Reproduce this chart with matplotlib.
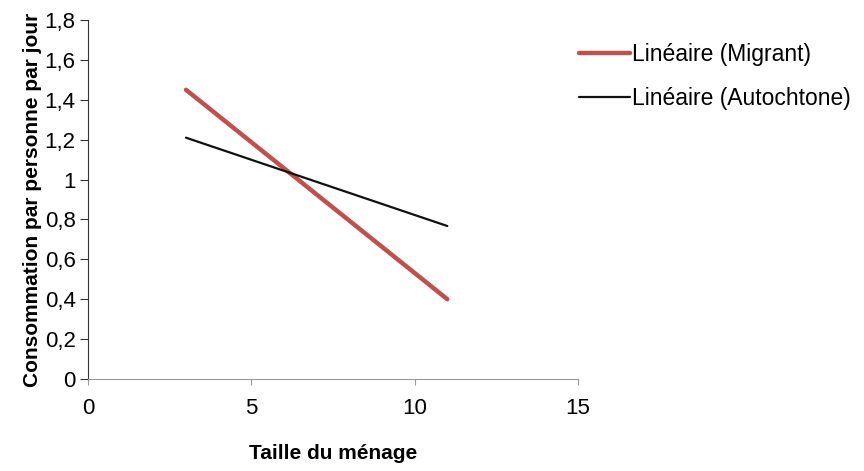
import matplotlib
matplotlib.use("Agg")
import matplotlib.pyplot as plt
from matplotlib.ticker import FuncFormatter

plt.rcParams['font.family'] = ['Liberation Sans', 'DejaVu Sans']

# Data (trend lines endpoints)
x_vals = [3, 11]
migrant = [1.45, 0.40]
autochtone = [1.21, 0.767]
series_labels = ["Linéaire (Migrant)", "Linéaire (Autochtone)"]
x_ticks = [0, 5, 10, 15]
y_ticks = [0, 0.2, 0.4, 0.6, 0.8, 1.0, 1.2, 1.4, 1.6, 1.8]

fig = plt.figure(figsize=(8.64, 4.71), dpi=100)
ax = fig.add_axes([88/864, 1-379/471, 490/864, 359/471])

l1, = ax.plot(x_vals, migrant, color="#C0504D", lw=3.2, solid_capstyle='round', label=series_labels[0])
l2, = ax.plot(x_vals, autochtone, color="#111111", lw=1.6, solid_capstyle='round', label=series_labels[1])

ax.set_xlim(0, 15)
ax.set_ylim(0, 1.8)
ax.set_xticks(x_ticks)
ax.set_yticks(y_ticks)

def fmt(v, pos):
    s = ("%.1f" % v).rstrip('0').rstrip('.')
    return s.replace('.', ',')
ax.yaxis.set_major_formatter(FuncFormatter(fmt))
ax.xaxis.set_major_formatter(FuncFormatter(fmt))

for s in ['top', 'right']:
    ax.spines[s].set_visible(False)
ax.spines['left'].set_color('#333333')
ax.spines['bottom'].set_color('#999999')
ax.tick_params(axis='y', direction='out', length=6, width=0.8, color='#333333', labelsize=16, pad=3)
ax.tick_params(axis='x', direction='out', length=4, width=0.8, color='#999999', labelsize=16, pad=10)

ax.set_ylabel("Consommation par personne par jour", fontsize=15, fontweight='bold', labelpad=2)
ax.set_xlabel("Taille du ménage", fontsize=15, fontweight='bold', labelpad=18)

fig.legend(handles=[l1, l2], loc='upper left', bbox_to_anchor=(570/864, 1-34/471),
           frameon=False, fontsize=16.5, handlelength=2.2, handletextpad=0.1,
           labelspacing=0.9, borderaxespad=0)

fig.savefig("out.png", dpi=100)
